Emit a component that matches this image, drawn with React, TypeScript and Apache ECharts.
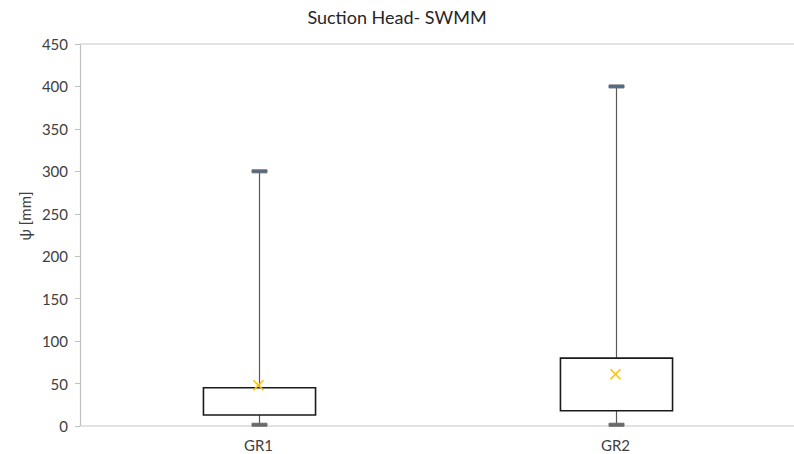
import React, { useEffect, useRef } from "react";
import * as echarts from "echarts";

const categories = ["GR1", "GR2"];
const minValues = [1.5, 1.5];
const q1Values = [13, 18];
const q3Values = [45, 80];
const maxValues = [300, 400];
const meanValues = [48, 61];
const yAxisTitle = "ψ [mm]";

const FONT = "Lato, 'Open Sans', sans-serif";

export default function App() {
  const ref = useRef<HTMLDivElement>(null);
  useEffect(() => {
    if (!ref.current) return;
    const chart = echarts.init(ref.current, undefined, { renderer: "svg" });
    const boxData = categories.map((_, i) => [i, minValues[i], q1Values[i], q3Values[i], maxValues[i], meanValues[i]]);

    const renderItem = (params: any, api: any) => {
      const idx = api.value(0);
      const pMin = api.coord([idx, api.value(1)]);
      const pQ1 = api.coord([idx, api.value(2)]);
      const pQ3 = api.coord([idx, api.value(3)]);
      const pMax = api.coord([idx, api.value(4)]);
      const pMean = api.coord([idx, api.value(5)]);
      const band = api.size([1, 0])[0];
      const bw = band * 0.314;
      const cx = Math.round(pQ1[0]) + 0.5;
      const capW = 15;
      const capH = 3;
      const m = 5;
      return {
        type: "group",
        children: [
          {
            type: "line",
            shape: { x1: cx, y1: pMax[1], x2: cx, y2: pQ3[1] },
            style: { stroke: "#595959", lineWidth: 1.2 },
          },
          {
            type: "line",
            shape: { x1: cx, y1: pQ1[1], x2: cx, y2: pMin[1] },
            style: { stroke: "#595959", lineWidth: 1.2 },
          },
          {
            type: "rect",
            shape: { x: cx - bw / 2, y: pQ3[1], width: bw, height: pQ1[1] - pQ3[1] },
            style: { fill: "#ffffff", stroke: "#1a1a1a", lineWidth: 1.6 },
          },
          {
            type: "rect",
            shape: { x: cx - capW / 2, y: pMax[1] - capH / 2, width: capW, height: capH },
            style: { fill: "#4f6a8a", stroke: "#6b6b6b", lineWidth: 1 },
          },
          {
            type: "rect",
            shape: { x: cx - capW / 2, y: pMin[1] - capH / 2, width: capW, height: capH },
            style: { fill: "#6b6b6b", stroke: "#6b6b6b", lineWidth: 1 },
          },
          {
            type: "line",
            shape: { x1: pMean[0] - m, y1: pMean[1] - m, x2: pMean[0] + m, y2: pMean[1] + m },
            style: { stroke: "#FFC000", lineWidth: 1.6 },
          },
          {
            type: "line",
            shape: { x1: pMean[0] - m, y1: pMean[1] + m, x2: pMean[0] + m, y2: pMean[1] - m },
            style: { stroke: "#FFC000", lineWidth: 1.6 },
          },
        ],
      };
    };

    chart.setOption({
      animation: false,
      backgroundColor: "#ffffff",
      title: {
        text: "Suction Head- SWMM",
        left: "center",
        top: 3,
        textStyle: { fontFamily: FONT, fontSize: 18, fontWeight: "normal", color: "#262626" },
      },
      grid: { left: 80, right: 0, top: 44, bottom: 28 },
      graphic: [
        {
          type: "text",
          x: 25,
          y: 216,
          rotation: Math.PI / 2,
          style: {
            text: yAxisTitle,
            fontFamily: FONT,
            fontSize: 15,
            fill: "#404040",
            align: "center",
            verticalAlign: "middle",
          },
        },
      ],
      xAxis: [
        {
          type: "category",
          data: categories,
          boundaryGap: true,
          axisTick: { show: false },
          axisLine: { lineStyle: { color: "#d9d9d9", width: 1.5 } },
          axisLabel: { color: "#404040", fontFamily: FONT, fontSize: 15, margin: 11 },
          splitLine: { show: false },
        },
        {
          type: "category",
          data: categories,
          position: "top",
          axisTick: { show: false },
          axisLabel: { show: false },
          axisLine: { lineStyle: { color: "#d9d9d9", width: 1.5 } },
        },
      ],
      yAxis: {
        type: "value",
        min: 0,
        max: 450,
        interval: 50,
        axisLine: { show: true, lineStyle: { color: "#bfbfbf", width: 1.2 } },
        axisTick: { show: true, length: 5, lineStyle: { color: "#bfbfbf" } },
        axisLabel: { color: "#404040", fontFamily: FONT, fontSize: 15, margin: 12 },
        splitLine: { show: false },
      },
      series: [
        {
          type: "custom",
          renderItem,
          data: boxData,
          encode: { x: 0, y: [1, 2, 3, 4, 5] },
          clip: false,
        },
      ],
    });
    return () => chart.dispose();
  }, []);
  return (
    <div
      ref={ref}
      style={{ position: "fixed", left: 0, top: 0, width: 794, height: 454 }}
    />
  );
}
